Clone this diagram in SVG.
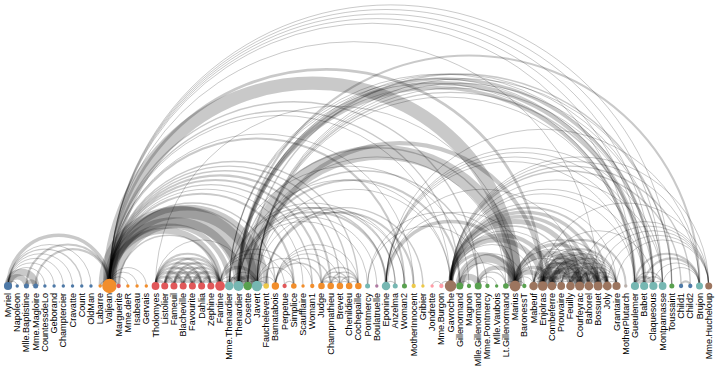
<svg xmlns="http://www.w3.org/2000/svg" width="720" height="368" viewBox="0 0 720 368">
<style>
#links path{fill:none;stroke:#000;stroke-opacity:0.21}
.v1{stroke-width:1}.v2{stroke-width:1.4}.v3{stroke-width:2.1}.v4{stroke-width:2.8}.v5{stroke-width:3.5}.v6{stroke-width:4.2}.v7{stroke-width:4.9}.v8{stroke-width:5.6}.v9{stroke-width:6.3}.v10{stroke-width:7}.v12{stroke-width:8.4}.v13{stroke-width:9.1}.v15{stroke-width:10.5}.v17{stroke-width:11.9}.v19{stroke-width:13.3}.v21{stroke-width:14.7}.v31{stroke-width:21.7}
.g0{fill:#edc949}.g1{fill:#4e79a7}.g2{fill:#f28e2c}.g3{fill:#e15759}.g4{fill:#76b7b2}.g5{fill:#59a14f}.g6{fill:#af7aa1}.g7{fill:#ff9da7}.g8{fill:#9c755f}.g9{fill:#bab0ab}
text{font-family:"Liberation Sans",Arial,sans-serif;font-size:9.1px;text-anchor:end;dominant-baseline:central;fill:#000}
</style>
<g id="links">
<path class="v1" d="M8 286a1 1 0 0 1 9.22 0"/>
<path class="v8" d="M8 286a1 1 0 0 1 18.44 0"/>
<path class="v10" d="M8 286a1 1 0 0 1 27.66 0"/>
<path class="v6" d="M26.44 286a1 1 0 0 1 9.22 0"/>
<path class="v1" d="M8 286a1 1 0 0 1 36.88 0"/>
<path class="v1" d="M8 286a1 1 0 0 1 46.1 0"/>
<path class="v1" d="M8 286a1 1 0 0 1 55.32 0"/>
<path class="v1" d="M8 286a1 1 0 0 1 64.54 0"/>
<path class="v2" d="M8 286a1 1 0 0 1 73.76 0"/>
<path class="v1" d="M8 286a1 1 0 0 1 82.98 0"/>
<path class="v1" d="M100.2 286a1 1 0 0 1 9.22 0"/>
<path class="v3" d="M35.66 286a1 1 0 0 1 73.76 0"/>
<path class="v3" d="M26.44 286a1 1 0 0 1 82.98 0"/>
<path class="v5" d="M8 286a1 1 0 0 1 101.42 0"/>
<path class="v1" d="M109.42 286a1 1 0 0 1 9.22 0"/>
<path class="v1" d="M109.42 286a1 1 0 0 1 18.44 0"/>
<path class="v1" d="M109.42 286a1 1 0 0 1 27.66 0"/>
<path class="v1" d="M109.42 286a1 1 0 0 1 36.88 0"/>
<path class="v4" d="M155.52 286a1 1 0 0 1 9.22 0"/>
<path class="v4" d="M155.52 286a1 1 0 0 1 18.44 0"/>
<path class="v4" d="M164.74 286a1 1 0 0 1 9.22 0"/>
<path class="v4" d="M155.52 286a1 1 0 0 1 27.66 0"/>
<path class="v4" d="M164.74 286a1 1 0 0 1 18.44 0"/>
<path class="v4" d="M173.96 286a1 1 0 0 1 9.22 0"/>
<path class="v3" d="M155.52 286a1 1 0 0 1 36.88 0"/>
<path class="v3" d="M164.74 286a1 1 0 0 1 27.66 0"/>
<path class="v3" d="M173.96 286a1 1 0 0 1 18.44 0"/>
<path class="v4" d="M183.18 286a1 1 0 0 1 9.22 0"/>
<path class="v3" d="M155.52 286a1 1 0 0 1 46.1 0"/>
<path class="v3" d="M164.74 286a1 1 0 0 1 36.88 0"/>
<path class="v3" d="M173.96 286a1 1 0 0 1 27.66 0"/>
<path class="v3" d="M183.18 286a1 1 0 0 1 18.44 0"/>
<path class="v5" d="M192.4 286a1 1 0 0 1 9.22 0"/>
<path class="v3" d="M155.52 286a1 1 0 0 1 55.32 0"/>
<path class="v3" d="M164.74 286a1 1 0 0 1 46.1 0"/>
<path class="v3" d="M173.96 286a1 1 0 0 1 36.88 0"/>
<path class="v3" d="M183.18 286a1 1 0 0 1 27.66 0"/>
<path class="v4" d="M192.4 286a1 1 0 0 1 18.44 0"/>
<path class="v4" d="M201.62 286a1 1 0 0 1 9.22 0"/>
<path class="v3" d="M155.52 286a1 1 0 0 1 64.54 0"/>
<path class="v3" d="M164.74 286a1 1 0 0 1 55.32 0"/>
<path class="v3" d="M173.96 286a1 1 0 0 1 46.1 0"/>
<path class="v3" d="M183.18 286a1 1 0 0 1 36.88 0"/>
<path class="v4" d="M192.4 286a1 1 0 0 1 27.66 0"/>
<path class="v4" d="M201.62 286a1 1 0 0 1 18.44 0"/>
<path class="v4" d="M210.84 286a1 1 0 0 1 9.22 0"/>
<path class="v2" d="M118.64 286a1 1 0 0 1 101.42 0"/>
<path class="v9" d="M109.42 286a1 1 0 0 1 110.64 0"/>
<path class="v2" d="M220.06 286a1 1 0 0 1 9.22 0"/>
<path class="v7" d="M109.42 286a1 1 0 0 1 119.86 0"/>
<path class="v13" d="M229.28 286a1 1 0 0 1 9.22 0"/>
<path class="v1" d="M220.06 286a1 1 0 0 1 18.44 0"/>
<path class="v12" d="M109.42 286a1 1 0 0 1 129.08 0"/>
<path class="v4" d="M229.28 286a1 1 0 0 1 18.44 0"/>
<path class="v31" d="M109.42 286a1 1 0 0 1 138.3 0"/>
<path class="v1" d="M155.52 286a1 1 0 0 1 92.2 0"/>
<path class="v1" d="M238.5 286a1 1 0 0 1 9.22 0"/>
<path class="v17" d="M109.42 286a1 1 0 0 1 147.52 0"/>
<path class="v5" d="M220.06 286a1 1 0 0 1 36.88 0"/>
<path class="v5" d="M238.5 286a1 1 0 0 1 18.44 0"/>
<path class="v1" d="M229.28 286a1 1 0 0 1 27.66 0"/>
<path class="v1" d="M247.72 286a1 1 0 0 1 9.22 0"/>
<path class="v8" d="M109.42 286a1 1 0 0 1 156.74 0"/>
<path class="v1" d="M256.94 286a1 1 0 0 1 9.22 0"/>
<path class="v1" d="M220.06 286a1 1 0 0 1 55.32 0"/>
<path class="v1" d="M256.94 286a1 1 0 0 1 18.44 0"/>
<path class="v2" d="M109.42 286a1 1 0 0 1 165.96 0"/>
<path class="v1" d="M220.06 286a1 1 0 0 1 64.54 0"/>
<path class="v2" d="M284.6 286a1 1 0 0 1 9.22 0"/>
<path class="v3" d="M109.42 286a1 1 0 0 1 184.4 0"/>
<path class="v2" d="M220.06 286a1 1 0 0 1 73.76 0"/>
<path class="v1" d="M256.94 286a1 1 0 0 1 36.88 0"/>
<path class="v1" d="M109.42 286a1 1 0 0 1 193.62 0"/>
<path class="v2" d="M109.42 286a1 1 0 0 1 202.84 0"/>
<path class="v1" d="M256.94 286a1 1 0 0 1 55.32 0"/>
<path class="v3" d="M109.42 286a1 1 0 0 1 212.06 0"/>
<path class="v2" d="M275.38 286a1 1 0 0 1 46.1 0"/>
<path class="v3" d="M109.42 286a1 1 0 0 1 221.28 0"/>
<path class="v3" d="M321.48 286a1 1 0 0 1 9.22 0"/>
<path class="v2" d="M275.38 286a1 1 0 0 1 55.32 0"/>
<path class="v2" d="M321.48 286a1 1 0 0 1 18.44 0"/>
<path class="v2" d="M330.7 286a1 1 0 0 1 9.22 0"/>
<path class="v2" d="M109.42 286a1 1 0 0 1 230.5 0"/>
<path class="v1" d="M275.38 286a1 1 0 0 1 64.54 0"/>
<path class="v2" d="M321.48 286a1 1 0 0 1 27.66 0"/>
<path class="v2" d="M330.7 286a1 1 0 0 1 18.44 0"/>
<path class="v2" d="M339.92 286a1 1 0 0 1 9.22 0"/>
<path class="v2" d="M109.42 286a1 1 0 0 1 239.72 0"/>
<path class="v1" d="M275.38 286a1 1 0 0 1 73.76 0"/>
<path class="v2" d="M321.48 286a1 1 0 0 1 36.88 0"/>
<path class="v2" d="M330.7 286a1 1 0 0 1 27.66 0"/>
<path class="v2" d="M339.92 286a1 1 0 0 1 18.44 0"/>
<path class="v2" d="M349.14 286a1 1 0 0 1 9.22 0"/>
<path class="v2" d="M109.42 286a1 1 0 0 1 248.94 0"/>
<path class="v1" d="M275.38 286a1 1 0 0 1 82.98 0"/>
<path class="v1" d="M238.5 286a1 1 0 0 1 129.08 0"/>
<path class="v1" d="M238.5 286a1 1 0 0 1 138.3 0"/>
<path class="v2" d="M229.28 286a1 1 0 0 1 156.74 0"/>
<path class="v3" d="M238.5 286a1 1 0 0 1 147.52 0"/>
<path class="v2" d="M386.02 286a1 1 0 0 1 9.22 0"/>
<path class="v2" d="M238.5 286a1 1 0 0 1 156.74 0"/>
<path class="v1" d="M229.28 286a1 1 0 0 1 165.96 0"/>
<path class="v3" d="M109.42 286a1 1 0 0 1 295.04 0"/>
<path class="v1" d="M247.72 286a1 1 0 0 1 156.74 0"/>
<path class="v1" d="M256.94 286a1 1 0 0 1 147.52 0"/>
<path class="v3" d="M266.16 286a1 1 0 0 1 147.52 0"/>
<path class="v1" d="M109.42 286a1 1 0 0 1 304.26 0"/>
<path class="v2" d="M266.16 286a1 1 0 0 1 156.74 0"/>
<path class="v1" d="M432.12 286a1 1 0 0 1 9.22 0"/>
<path class="v2" d="M441.34 286a1 1 0 0 1 9.22 0"/>
<path class="v1" d="M238.5 286a1 1 0 0 1 212.06 0"/>
<path class="v1" d="M256.94 286a1 1 0 0 1 193.62 0"/>
<path class="v1" d="M109.42 286a1 1 0 0 1 341.14 0"/>
<path class="v3" d="M247.72 286a1 1 0 0 1 212.06 0"/>
<path class="v2" d="M109.42 286a1 1 0 0 1 350.36 0"/>
<path class="v1" d="M459.78 286a1 1 0 0 1 9.22 0"/>
<path class="v1" d="M229.28 286a1 1 0 0 1 239.72 0"/>
<path class="v9" d="M459.78 286a1 1 0 0 1 18.44 0"/>
<path class="v2" d="M247.72 286a1 1 0 0 1 230.5 0"/>
<path class="v2" d="M109.42 286a1 1 0 0 1 368.8 0"/>
<path class="v1" d="M478.22 286a1 1 0 0 1 9.22 0"/>
<path class="v1" d="M367.58 286a1 1 0 0 1 119.86 0"/>
<path class="v1" d="M478.22 286a1 1 0 0 1 18.44 0"/>
<path class="v2" d="M478.22 286a1 1 0 0 1 27.66 0"/>
<path class="v1" d="M459.78 286a1 1 0 0 1 46.1 0"/>
<path class="v1" d="M247.72 286a1 1 0 0 1 258.16 0"/>
<path class="v6" d="M478.22 286a1 1 0 0 1 36.88 0"/>
<path class="v12" d="M459.78 286a1 1 0 0 1 55.32 0"/>
<path class="v1" d="M367.58 286a1 1 0 0 1 147.52 0"/>
<path class="v1" d="M505.88 286a1 1 0 0 1 9.22 0"/>
<path class="v21" d="M247.72 286a1 1 0 0 1 267.38 0"/>
<path class="v19" d="M109.42 286a1 1 0 0 1 405.68 0"/>
<path class="v1" d="M155.52 286a1 1 0 0 1 359.58 0"/>
<path class="v2" d="M238.5 286a1 1 0 0 1 276.6 0"/>
<path class="v5" d="M386.02 286a1 1 0 0 1 129.08 0"/>
<path class="v4" d="M450.56 286a1 1 0 0 1 64.54 0"/>
<path class="v1" d="M459.78 286a1 1 0 0 1 64.54 0"/>
<path class="v1" d="M515.1 286a1 1 0 0 1 9.22 0"/>
<path class="v1" d="M515.1 286a1 1 0 0 1 18.44 0"/>
<path class="v1" d="M386.02 286a1 1 0 0 1 147.52 0"/>
<path class="v1" d="M450.56 286a1 1 0 0 1 82.98 0"/>
<path class="v7" d="M515.1 286a1 1 0 0 1 27.66 0"/>
<path class="v7" d="M450.56 286a1 1 0 0 1 92.2 0"/>
<path class="v6" d="M256.94 286a1 1 0 0 1 285.82 0"/>
<path class="v1" d="M533.54 286a1 1 0 0 1 9.22 0"/>
<path class="v4" d="M109.42 286a1 1 0 0 1 433.34 0"/>
<path class="v15" d="M542.76 286a1 1 0 0 1 9.22 0"/>
<path class="v5" d="M515.1 286a1 1 0 0 1 36.88 0"/>
<path class="v6" d="M450.56 286a1 1 0 0 1 101.42 0"/>
<path class="v2" d="M533.54 286a1 1 0 0 1 18.44 0"/>
<path class="v1" d="M450.56 286a1 1 0 0 1 110.64 0"/>
<path class="v4" d="M542.76 286a1 1 0 0 1 18.44 0"/>
<path class="v2" d="M551.98 286a1 1 0 0 1 9.22 0"/>
<path class="v2" d="M450.56 286a1 1 0 0 1 119.86 0"/>
<path class="v6" d="M542.76 286a1 1 0 0 1 27.66 0"/>
<path class="v2" d="M561.2 286a1 1 0 0 1 9.22 0"/>
<path class="v5" d="M551.98 286a1 1 0 0 1 18.44 0"/>
<path class="v1" d="M533.54 286a1 1 0 0 1 36.88 0"/>
<path class="v1" d="M515.1 286a1 1 0 0 1 55.32 0"/>
<path class="v9" d="M515.1 286a1 1 0 0 1 64.54 0"/>
<path class="v17" d="M542.76 286a1 1 0 0 1 36.88 0"/>
<path class="v13" d="M551.98 286a1 1 0 0 1 27.66 0"/>
<path class="v7" d="M450.56 286a1 1 0 0 1 129.08 0"/>
<path class="v2" d="M533.54 286a1 1 0 0 1 46.1 0"/>
<path class="v1" d="M386.02 286a1 1 0 0 1 193.62 0"/>
<path class="v6" d="M570.42 286a1 1 0 0 1 9.22 0"/>
<path class="v3" d="M561.2 286a1 1 0 0 1 18.44 0"/>
<path class="v5" d="M551.98 286a1 1 0 0 1 36.88 0"/>
<path class="v5" d="M450.56 286a1 1 0 0 1 138.3 0"/>
<path class="v6" d="M579.64 286a1 1 0 0 1 9.22 0"/>
<path class="v2" d="M533.54 286a1 1 0 0 1 55.32 0"/>
<path class="v4" d="M542.76 286a1 1 0 0 1 46.1 0"/>
<path class="v3" d="M570.42 286a1 1 0 0 1 18.44 0"/>
<path class="v2" d="M561.2 286a1 1 0 0 1 27.66 0"/>
<path class="v1" d="M515.1 286a1 1 0 0 1 73.76 0"/>
<path class="v5" d="M515.1 286a1 1 0 0 1 82.98 0"/>
<path class="v12" d="M579.64 286a1 1 0 0 1 18.44 0"/>
<path class="v5" d="M450.56 286a1 1 0 0 1 147.52 0"/>
<path class="v4" d="M588.86 286a1 1 0 0 1 9.22 0"/>
<path class="v10" d="M542.76 286a1 1 0 0 1 55.32 0"/>
<path class="v6" d="M570.42 286a1 1 0 0 1 27.66 0"/>
<path class="v2" d="M561.2 286a1 1 0 0 1 36.88 0"/>
<path class="v9" d="M551.98 286a1 1 0 0 1 46.1 0"/>
<path class="v1" d="M533.54 286a1 1 0 0 1 64.54 0"/>
<path class="v1" d="M109.42 286a1 1 0 0 1 488.66 0"/>
<path class="v5" d="M588.86 286a1 1 0 0 1 18.44 0"/>
<path class="v7" d="M598.08 286a1 1 0 0 1 9.22 0"/>
<path class="v3" d="M450.56 286a1 1 0 0 1 156.74 0"/>
<path class="v5" d="M579.64 286a1 1 0 0 1 27.66 0"/>
<path class="v5" d="M542.76 286a1 1 0 0 1 64.54 0"/>
<path class="v5" d="M570.42 286a1 1 0 0 1 36.88 0"/>
<path class="v2" d="M561.2 286a1 1 0 0 1 46.1 0"/>
<path class="v5" d="M551.98 286a1 1 0 0 1 55.32 0"/>
<path class="v1" d="M533.54 286a1 1 0 0 1 73.76 0"/>
<path class="v2" d="M515.1 286a1 1 0 0 1 92.2 0"/>
<path class="v3" d="M598.08 286a1 1 0 0 1 18.44 0"/>
<path class="v3" d="M542.76 286a1 1 0 0 1 73.76 0"/>
<path class="v1" d="M551.98 286a1 1 0 0 1 64.54 0"/>
<path class="v2" d="M579.64 286a1 1 0 0 1 36.88 0"/>
<path class="v2" d="M607.3 286a1 1 0 0 1 9.22 0"/>
<path class="v1" d="M450.56 286a1 1 0 0 1 165.96 0"/>
<path class="v1" d="M588.86 286a1 1 0 0 1 27.66 0"/>
<path class="v1" d="M570.42 286a1 1 0 0 1 46.1 0"/>
<path class="v1" d="M561.2 286a1 1 0 0 1 55.32 0"/>
<path class="v3" d="M533.54 286a1 1 0 0 1 92.2 0"/>
<path class="v5" d="M238.5 286a1 1 0 0 1 396.46 0"/>
<path class="v1" d="M109.42 286a1 1 0 0 1 525.54 0"/>
<path class="v1" d="M229.28 286a1 1 0 0 1 405.68 0"/>
<path class="v1" d="M256.94 286a1 1 0 0 1 378.02 0"/>
<path class="v1" d="M450.56 286a1 1 0 0 1 184.4 0"/>
<path class="v1" d="M386.02 286a1 1 0 0 1 248.94 0"/>
<path class="v6" d="M238.5 286a1 1 0 0 1 405.68 0"/>
<path class="v6" d="M634.96 286a1 1 0 0 1 9.22 0"/>
<path class="v1" d="M109.42 286a1 1 0 0 1 534.76 0"/>
<path class="v1" d="M229.28 286a1 1 0 0 1 414.9 0"/>
<path class="v2" d="M256.94 286a1 1 0 0 1 387.24 0"/>
<path class="v1" d="M450.56 286a1 1 0 0 1 193.62 0"/>
<path class="v1" d="M386.02 286a1 1 0 0 1 258.16 0"/>
<path class="v4" d="M238.5 286a1 1 0 0 1 414.9 0"/>
<path class="v4" d="M644.18 286a1 1 0 0 1 9.22 0"/>
<path class="v4" d="M634.96 286a1 1 0 0 1 18.44 0"/>
<path class="v1" d="M109.42 286a1 1 0 0 1 543.98 0"/>
<path class="v1" d="M229.28 286a1 1 0 0 1 424.12 0"/>
<path class="v1" d="M256.94 286a1 1 0 0 1 396.46 0"/>
<path class="v1" d="M386.02 286a1 1 0 0 1 267.38 0"/>
<path class="v1" d="M542.76 286a1 1 0 0 1 110.64 0"/>
<path class="v1" d="M256.94 286a1 1 0 0 1 405.68 0"/>
<path class="v2" d="M644.18 286a1 1 0 0 1 18.44 0"/>
<path class="v2" d="M634.96 286a1 1 0 0 1 27.66 0"/>
<path class="v2" d="M653.4 286a1 1 0 0 1 9.22 0"/>
<path class="v1" d="M109.42 286a1 1 0 0 1 553.2 0"/>
<path class="v1" d="M450.56 286a1 1 0 0 1 212.06 0"/>
<path class="v1" d="M386.02 286a1 1 0 0 1 276.6 0"/>
<path class="v1" d="M238.5 286a1 1 0 0 1 424.12 0"/>
<path class="v2" d="M247.72 286a1 1 0 0 1 424.12 0"/>
<path class="v1" d="M256.94 286a1 1 0 0 1 414.9 0"/>
<path class="v1" d="M109.42 286a1 1 0 0 1 562.42 0"/>
<path class="v2" d="M450.56 286a1 1 0 0 1 230.5 0"/>
<path class="v2" d="M450.56 286a1 1 0 0 1 239.72 0"/>
<path class="v3" d="M681.06 286a1 1 0 0 1 9.22 0"/>
<path class="v3" d="M644.18 286a1 1 0 0 1 55.32 0"/>
<path class="v3" d="M634.96 286a1 1 0 0 1 64.54 0"/>
<path class="v3" d="M238.5 286a1 1 0 0 1 461 0"/>
<path class="v1" d="M450.56 286a1 1 0 0 1 248.94 0"/>
<path class="v1" d="M386.02 286a1 1 0 0 1 313.48 0"/>
<path class="v1" d="M653.4 286a1 1 0 0 1 46.1 0"/>
<path class="v1" d="M662.62 286a1 1 0 0 1 36.88 0"/>
<path class="v1" d="M598.08 286a1 1 0 0 1 110.64 0"/>
<path class="v1" d="M607.3 286a1 1 0 0 1 101.42 0"/>
<path class="v1" d="M616.52 286a1 1 0 0 1 92.2 0"/>
<path class="v1" d="M588.86 286a1 1 0 0 1 119.86 0"/>
<path class="v1" d="M579.64 286a1 1 0 0 1 129.08 0"/>
<path class="v1" d="M450.56 286a1 1 0 0 1 258.16 0"/>
<path class="v1" d="M542.76 286a1 1 0 0 1 165.96 0"/>
</g>
<g id="nodes">
<g id="node-Myriel"><circle class="g1" cx="8" cy="286" r="4.08"/><text transform="translate(8,293)rotate(-90)">Myriel</text></g>
<g id="node-Napoleon"><circle class="g1" cx="17.22" cy="286" r="1.7"/><text transform="translate(17.22,293)rotate(-90)">Napoleon</text></g>
<g id="node-MlleBaptistine"><circle class="g1" cx="26.44" cy="286" r="2.51"/><text transform="translate(26.44,293)rotate(-90)">Mlle.Baptistine</text></g>
<g id="node-MmeMagloire"><circle class="g1" cx="35.66" cy="286" r="2.51"/><text transform="translate(35.66,293)rotate(-90)">Mme.Magloire</text></g>
<g id="node-CountessdeLo"><circle class="g1" cx="44.88" cy="286" r="1.7"/><text transform="translate(44.88,293)rotate(-90)">CountessdeLo</text></g>
<g id="node-Geborand"><circle class="g1" cx="54.1" cy="286" r="1.7"/><text transform="translate(54.1,293)rotate(-90)">Geborand</text></g>
<g id="node-Champtercier"><circle class="g1" cx="63.32" cy="286" r="1.7"/><text transform="translate(63.32,293)rotate(-90)">Champtercier</text></g>
<g id="node-Cravatte"><circle class="g1" cx="72.54" cy="286" r="1.7"/><text transform="translate(72.54,293)rotate(-90)">Cravatte</text></g>
<g id="node-Count"><circle class="g1" cx="81.76" cy="286" r="1.7"/><text transform="translate(81.76,293)rotate(-90)">Count</text></g>
<g id="node-OldMan"><circle class="g1" cx="90.98" cy="286" r="1.7"/><text transform="translate(90.98,293)rotate(-90)">OldMan</text></g>
<g id="node-Labarre"><circle class="g2" cx="100.2" cy="286" r="1.7"/><text transform="translate(100.2,293)rotate(-90)">Labarre</text></g>
<g id="node-Valjean"><circle class="g2" cx="109.42" cy="286" r="7.2"/><text transform="translate(109.42,293)rotate(-90)">Valjean</text></g>
<g id="node-Marguerite"><circle class="g3" cx="118.64" cy="286" r="2.16"/><text transform="translate(118.64,293)rotate(-90)">Marguerite</text></g>
<g id="node-MmedeR"><circle class="g2" cx="127.86" cy="286" r="1.7"/><text transform="translate(127.86,293)rotate(-90)">Mme.deR</text></g>
<g id="node-Isabeau"><circle class="g2" cx="137.08" cy="286" r="1.7"/><text transform="translate(137.08,293)rotate(-90)">Isabeau</text></g>
<g id="node-Gervais"><circle class="g2" cx="146.3" cy="286" r="1.7"/><text transform="translate(146.3,293)rotate(-90)">Gervais</text></g>
<g id="node-Tholomyes"><circle class="g3" cx="155.52" cy="286" r="3.9"/><text transform="translate(155.52,293)rotate(-90)">Tholomyes</text></g>
<g id="node-Listolier"><circle class="g3" cx="164.74" cy="286" r="3.51"/><text transform="translate(164.74,293)rotate(-90)">Listolier</text></g>
<g id="node-Fameuil"><circle class="g3" cx="173.96" cy="286" r="3.51"/><text transform="translate(173.96,293)rotate(-90)">Fameuil</text></g>
<g id="node-Blacheville"><circle class="g3" cx="183.18" cy="286" r="3.51"/><text transform="translate(183.18,293)rotate(-90)">Blacheville</text></g>
<g id="node-Favourite"><circle class="g3" cx="192.4" cy="286" r="3.51"/><text transform="translate(192.4,293)rotate(-90)">Favourite</text></g>
<g id="node-Dahlia"><circle class="g3" cx="201.62" cy="286" r="3.51"/><text transform="translate(201.62,293)rotate(-90)">Dahlia</text></g>
<g id="node-Zephine"><circle class="g3" cx="210.84" cy="286" r="3.51"/><text transform="translate(210.84,293)rotate(-90)">Zephine</text></g>
<g id="node-Fantine"><circle class="g3" cx="220.06" cy="286" r="4.86"/><text transform="translate(220.06,293)rotate(-90)">Fantine</text></g>
<g id="node-MmeThenardier"><circle class="g4" cx="229.28" cy="286" r="4.25"/><text transform="translate(229.28,293)rotate(-90)">Mme.Thenardier</text></g>
<g id="node-Thenardier"><circle class="g4" cx="238.5" cy="286" r="5"/><text transform="translate(238.5,293)rotate(-90)">Thenardier</text></g>
<g id="node-Cosette"><circle class="g5" cx="247.72" cy="286" r="4.25"/><text transform="translate(247.72,293)rotate(-90)">Cosette</text></g>
<g id="node-Javert"><circle class="g4" cx="256.94" cy="286" r="5.14"/><text transform="translate(256.94,293)rotate(-90)">Javert</text></g>
<g id="node-Fauchelevent"><circle class="g0" cx="266.16" cy="286" r="2.8"/><text transform="translate(266.16,293)rotate(-90)">Fauchelevent</text></g>
<g id="node-Bamatabois"><circle class="g2" cx="275.38" cy="286" r="3.71"/><text transform="translate(275.38,293)rotate(-90)">Bamatabois</text></g>
<g id="node-Perpetue"><circle class="g3" cx="284.6" cy="286" r="2.16"/><text transform="translate(284.6,293)rotate(-90)">Perpetue</text></g>
<g id="node-Simplice"><circle class="g2" cx="293.82" cy="286" r="2.8"/><text transform="translate(293.82,293)rotate(-90)">Simplice</text></g>
<g id="node-Scaufflaire"><circle class="g2" cx="303.04" cy="286" r="1.7"/><text transform="translate(303.04,293)rotate(-90)">Scaufflaire</text></g>
<g id="node-Woman1"><circle class="g2" cx="312.26" cy="286" r="2.16"/><text transform="translate(312.26,293)rotate(-90)">Woman1</text></g>
<g id="node-Judge"><circle class="g2" cx="321.48" cy="286" r="3.29"/><text transform="translate(321.48,293)rotate(-90)">Judge</text></g>
<g id="node-Champmathieu"><circle class="g2" cx="330.7" cy="286" r="3.29"/><text transform="translate(330.7,293)rotate(-90)">Champmathieu</text></g>
<g id="node-Brevet"><circle class="g2" cx="339.92" cy="286" r="3.29"/><text transform="translate(339.92,293)rotate(-90)">Brevet</text></g>
<g id="node-Chenildieu"><circle class="g2" cx="349.14" cy="286" r="3.29"/><text transform="translate(349.14,293)rotate(-90)">Chenildieu</text></g>
<g id="node-Cochepaille"><circle class="g2" cx="358.36" cy="286" r="3.29"/><text transform="translate(358.36,293)rotate(-90)">Cochepaille</text></g>
<g id="node-Pontmercy"><circle class="g4" cx="367.58" cy="286" r="2.51"/><text transform="translate(367.58,293)rotate(-90)">Pontmercy</text></g>
<g id="node-Boulatruelle"><circle class="g6" cx="376.8" cy="286" r="1.7"/><text transform="translate(376.8,293)rotate(-90)">Boulatruelle</text></g>
<g id="node-Eponine"><circle class="g4" cx="386.02" cy="286" r="4.25"/><text transform="translate(386.02,293)rotate(-90)">Eponine</text></g>
<g id="node-Anzelma"><circle class="g4" cx="395.24" cy="286" r="2.51"/><text transform="translate(395.24,293)rotate(-90)">Anzelma</text></g>
<g id="node-Woman2"><circle class="g5" cx="404.46" cy="286" r="2.51"/><text transform="translate(404.46,293)rotate(-90)">Woman2</text></g>
<g id="node-MotherInnocent"><circle class="g0" cx="413.68" cy="286" r="2.16"/><text transform="translate(413.68,293)rotate(-90)">MotherInnocent</text></g>
<g id="node-Gribier"><circle class="g0" cx="422.9" cy="286" r="1.7"/><text transform="translate(422.9,293)rotate(-90)">Gribier</text></g>
<g id="node-Jondrette"><circle class="g7" cx="432.12" cy="286" r="1.7"/><text transform="translate(432.12,293)rotate(-90)">Jondrette</text></g>
<g id="node-MmeBurgon"><circle class="g7" cx="441.34" cy="286" r="2.16"/><text transform="translate(441.34,293)rotate(-90)">Mme.Burgon</text></g>
<g id="node-Gavroche"><circle class="g8" cx="450.56" cy="286" r="5.76"/><text transform="translate(450.56,293)rotate(-90)">Gavroche</text></g>
<g id="node-Gillenormand"><circle class="g5" cx="459.78" cy="286" r="3.51"/><text transform="translate(459.78,293)rotate(-90)">Gillenormand</text></g>
<g id="node-Magnon"><circle class="g5" cx="469" cy="286" r="2.16"/><text transform="translate(469,293)rotate(-90)">Magnon</text></g>
<g id="node-MlleGillenormand"><circle class="g5" cx="478.22" cy="286" r="3.51"/><text transform="translate(478.22,293)rotate(-90)">Mlle.Gillenormand</text></g>
<g id="node-MmePontmercy"><circle class="g5" cx="487.44" cy="286" r="2.16"/><text transform="translate(487.44,293)rotate(-90)">Mme.Pontmercy</text></g>
<g id="node-MlleVaubois"><circle class="g5" cx="496.66" cy="286" r="1.7"/><text transform="translate(496.66,293)rotate(-90)">Mlle.Vaubois</text></g>
<g id="node-LtGillenormand"><circle class="g5" cx="505.88" cy="286" r="2.8"/><text transform="translate(505.88,293)rotate(-90)">Lt.Gillenormand</text></g>
<g id="node-Marius"><circle class="g8" cx="515.1" cy="286" r="5.39"/><text transform="translate(515.1,293)rotate(-90)">Marius</text></g>
<g id="node-BaronessT"><circle class="g5" cx="524.32" cy="286" r="2.16"/><text transform="translate(524.32,293)rotate(-90)">BaronessT</text></g>
<g id="node-Mabeuf"><circle class="g8" cx="533.54" cy="286" r="4.25"/><text transform="translate(533.54,293)rotate(-90)">Mabeuf</text></g>
<g id="node-Enjolras"><circle class="g8" cx="542.76" cy="286" r="4.86"/><text transform="translate(542.76,293)rotate(-90)">Enjolras</text></g>
<g id="node-Combeferre"><circle class="g8" cx="551.98" cy="286" r="4.25"/><text transform="translate(551.98,293)rotate(-90)">Combeferre</text></g>
<g id="node-Prouvaire"><circle class="g8" cx="561.2" cy="286" r="3.9"/><text transform="translate(561.2,293)rotate(-90)">Prouvaire</text></g>
<g id="node-Feuilly"><circle class="g8" cx="570.42" cy="286" r="4.25"/><text transform="translate(570.42,293)rotate(-90)">Feuilly</text></g>
<g id="node-Courfeyrac"><circle class="g8" cx="579.64" cy="286" r="4.57"/><text transform="translate(579.64,293)rotate(-90)">Courfeyrac</text></g>
<g id="node-Bahorel"><circle class="g8" cx="588.86" cy="286" r="4.41"/><text transform="translate(588.86,293)rotate(-90)">Bahorel</text></g>
<g id="node-Bossuet"><circle class="g8" cx="598.08" cy="286" r="4.57"/><text transform="translate(598.08,293)rotate(-90)">Bossuet</text></g>
<g id="node-Joly"><circle class="g8" cx="607.3" cy="286" r="4.41"/><text transform="translate(607.3,293)rotate(-90)">Joly</text></g>
<g id="node-Grantaire"><circle class="g8" cx="616.52" cy="286" r="4.08"/><text transform="translate(616.52,293)rotate(-90)">Grantaire</text></g>
<g id="node-MotherPlutarch"><circle class="g9" cx="625.74" cy="286" r="1.7"/><text transform="translate(625.74,293)rotate(-90)">MotherPlutarch</text></g>
<g id="node-Gueulemer"><circle class="g4" cx="634.96" cy="286" r="4.08"/><text transform="translate(634.96,293)rotate(-90)">Gueulemer</text></g>
<g id="node-Babet"><circle class="g4" cx="644.18" cy="286" r="4.08"/><text transform="translate(644.18,293)rotate(-90)">Babet</text></g>
<g id="node-Claquesous"><circle class="g4" cx="653.4" cy="286" r="4.08"/><text transform="translate(653.4,293)rotate(-90)">Claquesous</text></g>
<g id="node-Montparnasse"><circle class="g4" cx="662.62" cy="286" r="3.9"/><text transform="translate(662.62,293)rotate(-90)">Montparnasse</text></g>
<g id="node-Toussaint"><circle class="g5" cx="671.84" cy="286" r="2.51"/><text transform="translate(671.84,293)rotate(-90)">Toussaint</text></g>
<g id="node-Child1"><circle class="g1" cx="681.06" cy="286" r="2.16"/><text transform="translate(681.06,293)rotate(-90)">Child1</text></g>
<g id="node-Child2"><circle class="g1" cx="690.28" cy="286" r="2.16"/><text transform="translate(690.28,293)rotate(-90)">Child2</text></g>
<g id="node-Brujon"><circle class="g4" cx="699.5" cy="286" r="3.51"/><text transform="translate(699.5,293)rotate(-90)">Brujon</text></g>
<g id="node-MmeHucheloup"><circle class="g8" cx="708.72" cy="286" r="3.51"/><text transform="translate(708.72,293)rotate(-90)">Mme.Hucheloup</text></g>
</g>
</svg>
